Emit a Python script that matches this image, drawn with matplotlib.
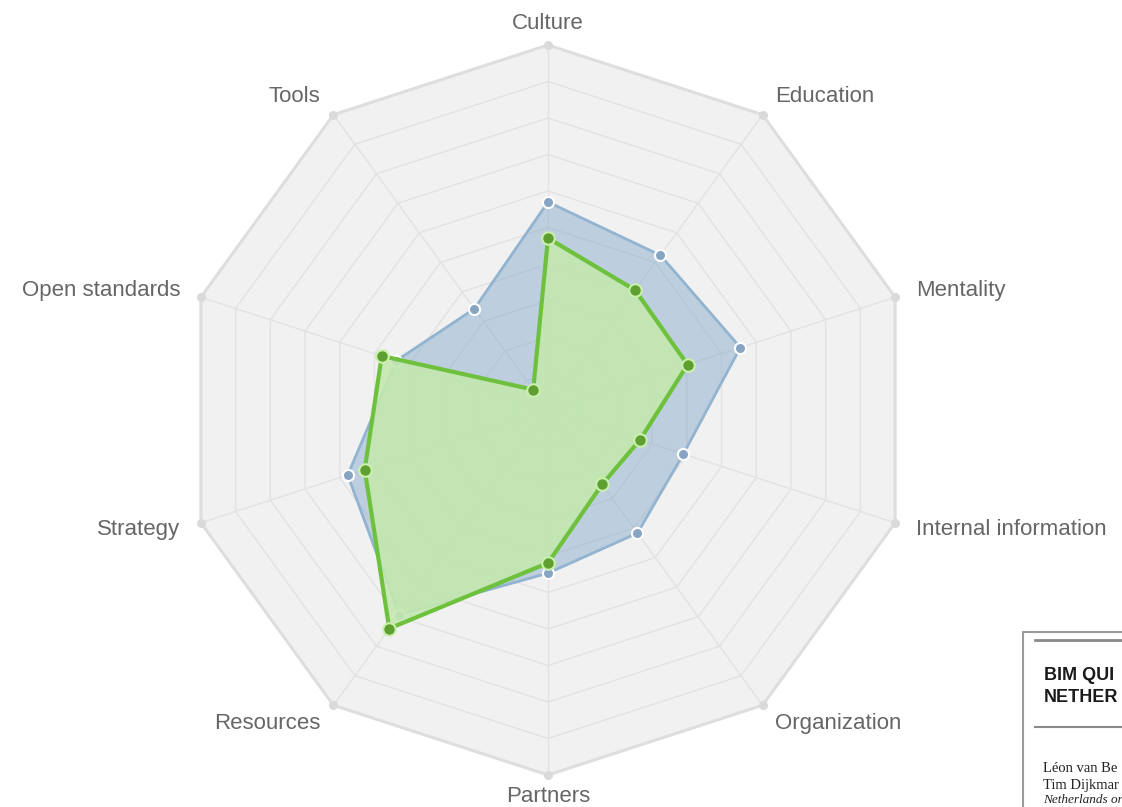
import numpy as np
import matplotlib.pyplot as plt
from matplotlib.patches import Rectangle

# axes of the radar, clockwise from the top
categories = ['Culture', 'Education', 'Mentality', 'Internal information', 'Organization',
              'Partners', 'Resources', 'Strategy', 'Open standards', 'Tools']

# two series (scale 0-10)
blue_values = [5.7, 5.24, 5.54, 3.9, 4.17, 4.47, 6.93, 5.77, 4.37, 3.43]
green_values = [4.71, 4.06, 4.02, 2.65, 2.52, 4.19, 7.4, 5.28, 4.79, 0.69]

ring_levels = [1, 2, 3, 4, 5, 6, 7, 8, 9, 10]
scale_max = 10

# visible (cropped) text of the paper page in the corner
page_title = ['BIM QUI', 'NETHER']
page_authors = ['Léon van Be', 'Tim Dijkmar']
page_affil = 'Netherlands or'

plt.rcParams['font.family'] = ['Liberation Sans', 'DejaVu Sans']

fig = plt.figure(figsize=(11.22, 8.07), dpi=100)
fig.patch.set_facecolor('white')

ax = fig.add_axes([183 / 1122, 32 / 807, 730 / 1122, 730 / 807], projection='polar')
ax.set_theta_zero_location('N')
ax.set_theta_direction(-1)
ax.set_ylim(0, scale_max)
ax.set_facecolor('none')
ax.spines['polar'].set_visible(False)
ax.grid(False)
ax.set_xticks([])
ax.set_yticks([])

n = len(categories)
angles = np.linspace(0, 2 * np.pi, n, endpoint=False)
closed = np.append(angles, angles[0])

# grey plot background and rings
ax.fill(closed, [scale_max] * (n + 1), color='#f1f1f1', zorder=0)
for lvl in ring_levels[:-1]:
    ax.plot(closed, [lvl] * (n + 1), color='#e2e2e2', lw=1, zorder=1)
ax.plot(closed, [scale_max] * (n + 1), color='#dedede', lw=2.2, zorder=1, clip_on=False)
for a in angles:
    ax.plot([a, a], [0, scale_max], color='#e2e2e2', lw=1, zorder=1)
ax.scatter(angles, [scale_max] * n, s=30, color='#dadada', zorder=2, clip_on=False)

# series
blue_closed = blue_values + blue_values[:1]
green_closed = green_values + green_values[:1]

ax.fill(closed, blue_closed, color='#7fa6c9', alpha=0.45, zorder=3)
ax.plot(closed, blue_closed, color='#93b4d1', lw=2, zorder=4)
ax.plot(angles, blue_values, 'o', ms=8, mfc='#87a5c2', mec='white', mew=1.5, zorder=5)

ax.fill(closed, green_closed, color='#c4e8b0', alpha=0.9, zorder=6)
ax.plot(closed, green_closed, color='#6ec13d', lw=3, zorder=7)
ax.plot(angles, green_values, 'o', ms=9, mfc='#5f9f31', mec='#c9f0ad', mew=1.5, zorder=8)

# category labels
for a, name in zip(angles, categories):
    s = np.sin(a)
    if s > 0.1:
        ha = 'left'
    elif s < -0.1:
        ha = 'right'
    else:
        ha = 'center'
    ax.text(a, 10.6, name, ha=ha, va='center', fontsize=16, color='#666666', clip_on=False)

# cropped page of the paper in the lower right corner
inset = fig.add_axes([1022 / 1122, 0, 100 / 1122, 176 / 807])
inset.set_xlim(1022, 1122)
inset.set_ylim(807, 631)
inset.axis('off')
inset.add_patch(Rectangle((1023, 632), 120, 200, facecolor='white', edgecolor='#9a9a9a', lw=1.5))
inset.plot([1035, 1130], [640, 640], color='#8a8a8a', lw=2)
inset.plot([1035, 1130], [727, 727], color='#8a8a8a', lw=1.5)
for y, line in zip([676, 698], page_title):
    inset.text(1044, y, line, fontsize=13, fontweight='bold', color='#1a1a1a', va='center')
for y, line in zip([768, 785], page_authors):
    inset.text(1043, y, line, fontsize=10.5, family='Liberation Serif', color='#222222', va='center')
inset.text(1043, 800, page_affil, fontsize=9.5, family='Liberation Serif', style='italic',
           color='#222222', va='center')

plt.savefig('out.png', dpi=100)
